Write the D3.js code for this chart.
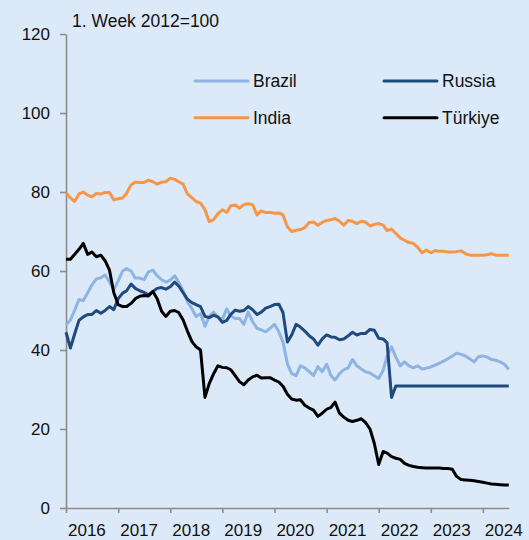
<!DOCTYPE html>
<html>
<head>
<meta charset="utf-8">
<script src="https://cdn.jsdelivr.net/npm/d3@7"></script>
<style>
  body { margin: 0; background: #dce9f8; }
  svg { display: block; font-family: "Liberation Sans", Arial, sans-serif; }
</style>
</head>
<body>
<svg id="chart"></svg>
<script>
// monthly readings, Jan 2016 .. Jul 2024
const months = d3.timeMonth.range(new Date(2016, 0, 1), new Date(2024, 7, 1));

const brazil = [
  46.3, 47.6, 50.0, 52.8, 52.5, 54.5, 56.5, 58.0, 58.3, 59.0, 57.2, 55.3,
  57.5, 60.0, 60.6, 60.0, 58.2, 58.2, 57.8, 59.8, 60.2, 58.8, 57.8, 57.2,
  57.7, 58.8, 57.2, 55.0, 52.2, 50.5, 48.5, 49.2, 46.0, 48.5, 49.6, 48.2,
  47.8, 50.4, 48.6, 48.0, 48.0, 46.5, 49.6, 47.2, 45.5, 45.1, 44.6, 45.5,
  46.5, 44.6, 42.0, 36.5, 34.0, 33.5, 36.0, 35.5, 34.5, 33.5, 35.8, 34.5,
  36.4, 33.5, 32.4, 34.0, 35.0, 35.5, 37.6, 36.0, 35.2, 34.5, 34.2, 33.5,
  32.8, 34.8, 38.5, 40.8, 38.2, 36.0, 37.0, 36.0, 35.5, 36.0, 35.2, 35.4,
  35.7, 36.2, 36.6, 37.2, 37.8, 38.5, 39.2, 38.9, 38.5, 37.8, 37.0, 38.3,
  38.5, 38.2, 37.6, 37.4, 37.0, 36.4, 35.1
];

const russia = [
  44.5, 40.5, 44.0, 47.5, 48.4, 49.0, 49.0, 50.0, 49.3, 50.0, 51.0, 50.2,
  53.0, 54.4, 55.0, 56.7, 55.6, 55.0, 54.6, 54.0, 54.8, 55.6, 55.8, 55.4,
  56.0, 57.2, 56.2, 54.5, 52.9, 52.0, 51.5, 51.0, 48.5, 48.2, 48.8, 48.4,
  47.0, 47.5, 49.0, 50.1, 49.8, 50.0, 51.0, 50.2, 49.0, 49.6, 50.6, 51.0,
  51.5, 51.6, 49.5, 42.0, 43.8, 46.5, 45.8, 44.8, 43.6, 42.8, 41.2, 42.8,
  43.8, 43.3, 43.2, 42.6, 42.8, 43.6, 44.5, 43.8, 44.2, 44.2, 45.2, 45.0,
  43.0, 42.8, 41.8, 28.0, 30.9, 30.9, 30.9, 30.9, 30.9, 30.9, 30.9, 30.9,
  30.9, 30.9, 30.9, 30.9, 30.9, 30.9, 30.9, 30.9, 30.9, 30.9, 30.9, 30.9,
  30.9, 30.9, 30.9, 30.9, 30.9, 30.9, 30.9
];

const india = [
  79.8, 78.5, 77.6, 79.5, 80.0, 79.2, 78.8, 79.6, 79.5, 79.9, 79.9, 78.0,
  78.3, 78.5, 79.7, 81.8, 82.5, 82.4, 82.4, 83.0, 82.6, 82.0, 82.5, 82.6,
  83.5, 83.2, 82.6, 82.0, 79.5, 78.6, 77.6, 77.2, 75.5, 72.5, 73.0, 74.5,
  75.5, 74.8, 76.5, 76.7, 75.9, 76.8, 77.0, 76.8, 74.2, 75.2, 74.8, 74.8,
  74.6, 74.7, 74.2, 71.2, 70.0, 70.3, 70.5, 71.0, 72.3, 72.4, 71.6, 72.3,
  72.8, 73.0, 73.3, 72.6, 71.6, 72.8, 72.6, 72.0, 72.6, 72.4, 71.4, 71.8,
  72.0, 71.6, 70.2, 70.6, 69.5, 68.4, 67.8, 67.2, 67.0, 66.0, 64.6, 65.3,
  64.6, 65.2, 65.0, 65.0, 64.8, 64.8, 64.9, 65.1, 64.4, 64.0, 64.0, 64.0,
  64.0, 64.1, 64.4, 64.0, 64.0, 64.0, 64.0
];

const turkiye = [
  63.0, 63.0, 64.2, 65.5, 67.0, 64.2, 64.8, 63.6, 64.0, 62.6, 60.2, 54.5,
  51.5, 51.0, 51.0, 51.8, 53.0, 53.6, 53.8, 53.7, 54.8, 53.0, 49.8, 48.5,
  49.8, 50.0, 49.5, 47.6, 44.8, 42.2, 40.8, 40.0, 28.0, 31.5, 34.0, 36.0,
  35.6, 35.5, 35.0, 33.5, 32.0, 31.2, 32.4, 33.2, 33.6, 32.9, 33.0, 33.0,
  32.4, 31.9, 30.8, 28.8, 27.6, 27.3, 27.4, 26.0, 25.3, 24.8, 23.2, 24.0,
  25.0, 25.5, 26.8, 24.0, 23.0, 22.2, 21.9, 22.2, 22.6, 21.6, 20.0, 16.4,
  11.0, 14.3, 13.9, 13.0, 12.6, 12.3, 11.3, 10.8, 10.5, 10.3, 10.2, 10.1,
  10.1, 10.1, 10.1, 10.0, 10.0, 9.8, 8.0, 7.2, 7.1, 7.0, 6.9, 6.7,
  6.5, 6.3, 6.1, 6.0, 5.9, 5.8, 5.8
];

const seriesNames = ["Brazil", "Russia", "India", "Türkiye"];
const seriesValues = [brazil, russia, india, turkiye];
const seriesColors = ["#8db4e2", "#1f4a7e", "#f79646", "#000000"];

const yTicks = [0, 20, 40, 60, 80, 100, 120];
const title = "1. Week 2012=100";

const width = 529;
const height = 540;

const svg = d3.select("#chart")
    .attr("width", width)
    .attr("height", height);

svg.append("rect")
    .attr("width", width)
    .attr("height", height)
    .attr("fill", "#dce9f8");

const x = d3.scaleTime()
    .domain([new Date(2016, 0, 1), new Date(2024, 6, 1)])
    .range([66, 508.8]);

const y = d3.scaleLinear()
    .domain([0, 120])
    .range([508, 34]);

// y axis
const yAxis = svg.append("g")
    .attr("transform", "translate(66,0)")
    .call(d3.axisLeft(y).tickValues(yTicks).tickSize(6).tickSizeOuter(0).tickPadding(10));

// x axis
const xAxis = svg.append("g")
    .attr("transform", "translate(0,508)")
    .call(d3.axisBottom(x).ticks(d3.timeYear.every(1)).tickFormat(d3.timeFormat("%Y"))
        .tickSize(5).tickSizeOuter(0).tickPadding(11));

xAxis.selectAll("text")
    .attr("text-anchor", "start")
    .attr("x", 1.5);

[yAxis, xAxis].forEach(ax => {
    ax.selectAll("path, line").attr("stroke", "#8c8c8c").attr("stroke-width", 1.6);
    ax.selectAll("text").attr("fill", "#111").style("font-size", "17px");
});

// lines
const line = d3.line()
    .x((d, i) => x(months[i]))
    .y(d => y(d));

svg.selectAll(".series")
    .data(seriesValues)
    .enter()
    .append("path")
    .attr("class", "series")
    .attr("d", line)
    .attr("fill", "none")
    .attr("stroke", (d, i) => seriesColors[i])
    .attr("stroke-width", 3)
    .attr("stroke-linejoin", "round");

// title
svg.append("text")
    .attr("x", 72)
    .attr("y", 26.5)
    .style("font-size", "17.5px")
    .attr("fill", "#111")
    .text(title);

// legend: two columns, two rows
const legendPos = [[195, 81], [384, 81], [195, 117.7], [384, 117.7]];

const legend = svg.selectAll(".legend")
    .data(seriesNames)
    .enter()
    .append("g")
    .attr("class", "legend")
    .attr("transform", (d, i) => `translate(${legendPos[i][0]},${legendPos[i][1]})`);

legend.append("line")
    .attr("x1", 0)
    .attr("x2", 53)
    .attr("stroke", (d, i) => seriesColors[i])
    .attr("stroke-width", 3)
    .attr("stroke-linecap", "round");

legend.append("text")
    .attr("x", 58)
    .attr("y", 6.3)
    .style("font-size", "17.5px")
    .attr("fill", "#111")
    .text(d => d);
</script>
</body>
</html>
